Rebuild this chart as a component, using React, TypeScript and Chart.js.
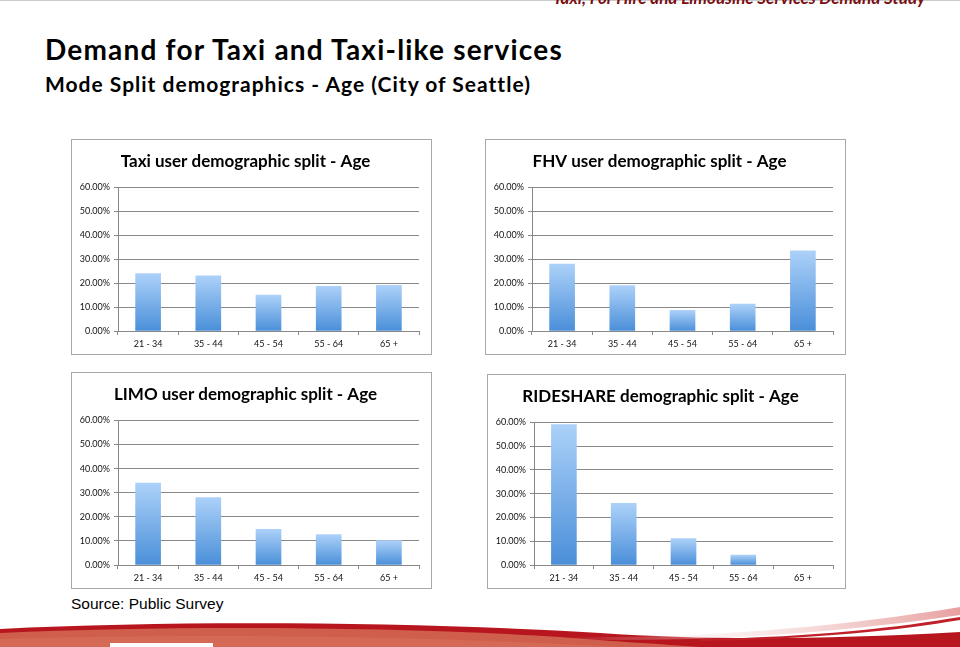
import React, { useEffect, useRef } from 'react';
import { Chart, registerables } from 'chart.js';

Chart.register(...registerables);

const AGE_GROUPS = ['21 - 34', '35 - 44', '45 - 54', '55 - 64', '65 +'];
const TAXI_SHARE = [24.0, 23.1, 15.0, 18.7, 19.1];
const FHV_SHARE = [28.0, 19.0, 8.6, 11.2, 33.5];
const LIMO_SHARE = [34.0, 28.0, 14.8, 12.6, 10.1];
const RIDESHARE_SHARE = [59.1, 26.0, 11.1, 4.2, 0];
const Y_TICKS = [0, 10, 20, 30, 40, 50, 60];

const TICK_FONT = { family: 'Lato', size: 9 };

type Box = { left: number; top: number; width: number; height: number };

function AgeChart({ title, values, box }: { title: string; values: number[]; box: Box }) {
  const ref = useRef<HTMLCanvasElement | null>(null);
  useEffect(() => {
    if (!ref.current) return;
    const chart = new Chart(ref.current, {
      type: 'bar',
      data: {
        labels: AGE_GROUPS,
        datasets: [
          {
            data: values,
            borderWidth: 0,
            barThickness: 25,
            backgroundColor: (ctx: any) => {
              const c = ctx.chart;
              if (!c.chartArea || ctx.type !== 'data') return '#7fb2ea';
              const ys = c.scales.y;
              const top = ys.getPixelForValue(ctx.parsed.y);
              const bottom = ys.getPixelForValue(0);
              if (bottom - top < 1) return 'rgba(0,0,0,0)';
              const g = c.ctx.createLinearGradient(0, top, 0, bottom);
              g.addColorStop(0, '#acd1f9');
              g.addColorStop(1, '#4a8fd9');
              return g;
            },
          },
        ],
      },
      options: {
        animation: false,
        responsive: true,
        maintainAspectRatio: false,
        layout: { padding: { left: 0, right: 12, top: 0, bottom: 0 } },
        plugins: {
          legend: { display: false },
          tooltip: { enabled: false },
          title: {
            display: true,
            text: title,
            color: '#000',
            font: { family: 'Lato', size: 17, weight: 'bold' },
            padding: { top: 11, bottom: 16 },
          },
        },
        scales: {
          x: {
            grid: { drawOnChartArea: false, tickLength: 4, color: '#888', offset: true },
            border: { color: '#888' },
            ticks: { font: TICK_FONT, color: '#111', padding: 4, maxRotation: 0 },
            afterFit: (s: any) => {
              s.height = 23;
            },
          },
          y: {
            min: 0,
            max: 60,
            afterBuildTicks: (s: any) => {
              s.ticks = Y_TICKS.map((v) => ({ value: v }));
            },
            ticks: {
              font: TICK_FONT,
              color: '#111',
              padding: 4,
              callback: (v: any) => Number(v).toFixed(2) + '%',
            },
            grid: { color: '#888', tickLength: 4 },
            border: { color: '#888' },
            afterFit: (s: any) => {
              s.width = 46;
            },
          },
        },
      },
    } as any);
    return () => chart.destroy();
  }, [title, values]);

  return (
    <div
      style={{
        position: 'absolute',
        left: box.left,
        top: box.top,
        width: box.width,
        height: box.height,
        border: '1px solid #a8a8a8',
        boxSizing: 'border-box',
        background: '#fff',
      }}
    >
      <div style={{ position: 'relative', width: '100%', height: '100%' }}>
        <canvas ref={ref} />
      </div>
    </div>
  );
}

function Swoosh() {
  return (
    <svg
      width={960}
      height={60}
      viewBox="0 0 960 60"
      style={{ position: 'absolute', left: 0, top: 587 }}
    >
      <defs>
        <linearGradient id="fade" x1="0" y1="0" x2="1" y2="0">
          <stop offset="0" stopColor="#ffffff" stopOpacity="0" />
          <stop offset="1" stopColor="#e8a0a0" stopOpacity="1" />
        </linearGradient>
      </defs>
      <path d="M0,42 C180,33 420,35 600,46 C700,53 820,53 960,45 L960,60 L0,60 Z" fill="#b8161e" />
      <path d="M0,46 C180,38 400,40 560,50 C620,55 660,57 700,60 L0,60 Z" fill="#cf5f4c" />
      <path d="M0,52 C200,46 420,49 620,60 L0,60 Z" fill="#d46a55" />
      <path d="M560,50 C700,52 840,40 960,20 L960,28 C840,46 700,56 560,52 Z" fill="url(#fade)" />
      <path d="M700,52 C820,50 900,40 960,30 L960,33 C900,43 820,52 700,54 Z" fill="#c0202a" />
      <rect x={110} y={56} width={103} height={4} fill="#ffffff" />
    </svg>
  );
}

export default function App() {
  return (
    <div
      style={{
        position: 'absolute',
        left: 0,
        top: 0,
        width: 960,
        height: 647,
        overflow: 'hidden',
        background: '#fff',
      }}
    >
      <div style={{ position: 'absolute', left: 0, top: 0, width: 960, height: 1, background: '#ccc' }} />
      <div
        style={{
          position: 'absolute',
          left: 553,
          top: -13,
          fontFamily: 'Lato',
          fontWeight: 'bold',
          fontStyle: 'italic',
          fontSize: 17,
          color: '#7a0f14',
          whiteSpace: 'nowrap',
        }}
      >
        Taxi, For Hire and Limousine Services Demand Study
      </div>
      <div
        style={{
          position: 'absolute',
          left: 45,
          top: 32,
          fontFamily: 'Lato',
          fontWeight: 'bold',
          fontSize: 28,
          letterSpacing: 1.2,
          lineHeight: '34px',
          color: '#000',
          whiteSpace: 'nowrap',
        }}
      >
        Demand for Taxi and Taxi-like services
      </div>
      <div
        style={{
          position: 'absolute',
          left: 45,
          top: 71,
          fontFamily: 'Lato',
          fontWeight: 'bold',
          fontSize: 21,
          letterSpacing: 1,
          lineHeight: '26px',
          color: '#000',
          whiteSpace: 'nowrap',
        }}
      >
        Mode Split demographics - Age (City of Seattle)
      </div>

      <AgeChart title="Taxi user demographic split - Age" values={TAXI_SHARE} box={{ left: 71, top: 139, width: 361, height: 216 }} />
      <AgeChart title="FHV user demographic split - Age" values={FHV_SHARE} box={{ left: 485, top: 139, width: 361, height: 216 }} />
      <AgeChart title="LIMO user demographic split - Age" values={LIMO_SHARE} box={{ left: 71, top: 372, width: 361, height: 217 }} />
      <AgeChart title="RIDESHARE demographic split - Age" values={RIDESHARE_SHARE} box={{ left: 487, top: 374, width: 359, height: 215 }} />

      <div
        style={{
          position: 'absolute',
          left: 71,
          top: 594,
          fontFamily: '"Liberation Sans", Arial, sans-serif',
          fontSize: 15.5,
          lineHeight: '19px',
          color: '#000',
          whiteSpace: 'nowrap',
        }}
      >
        Source: Public Survey
      </div>
      <Swoosh />
    </div>
  );
}
